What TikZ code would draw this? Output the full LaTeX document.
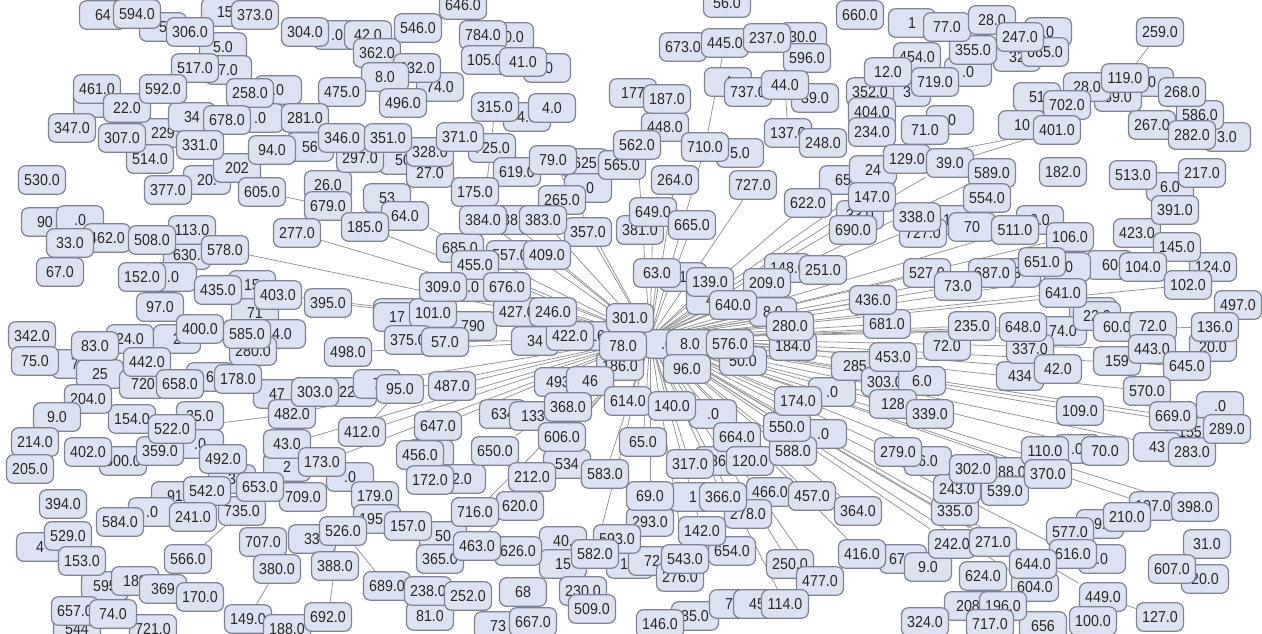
\documentclass[tikz,border=0pt]{standalone}
\usepackage{fontspec}
\setmainfont{Liberation Sans}[FakeStretch=0.9]
\usetikzlibrary{backgrounds}
\definecolor{boxfill}{RGB}{221,226,242}
\definecolor{boxline}{RGB}{125,131,148}
\definecolor{edgegray}{RGB}{150,150,150}
\definecolor{labeltxt}{RGB}{40,40,40}
\tikzset{
  box/.style={draw=boxline, fill=boxfill, rounded corners=4pt, line width=0.7pt,
    minimum width=0.94cm, minimum height=0.57cm, inner sep=1pt, text=labeltxt,
    font=\fontsize{9}{10}\selectfont},
  link/.style={draw=edgegray, line width=0.45pt}
}
\begin{document}
\begin{tikzpicture}[x=0.02cm, y=-0.02cm]
\useasboundingbox (0,0) rectangle (1262,634);
% boxes that are mostly hidden, only part of the label shows
\foreach \x/\y/\t [count=\i] in {103/15/64, 163/27/5, 225/12/15, 223/47/5.0, 337/35/.0, 368/35/42.0,
  228/70/7.0, 97/103/, 278/90/.0, 163/133/229, 192/117/34, 260/118/.0, 310/147/56, 403/160/50,
  207/180/20., 237/168/202, 328/185/26.0, 387/198/53, 45/222/90, 80/220/.0, 187/255/630.,
  173/277/.0, 252/285/15, 255/313/71, 397/313/17, 440/87/74.0, 510/37/50.0, 547/68/.0,
  527/117/4.0, 552/108/4.0, 430/173/27.0, 585/163/625, 588/188/.0, 510/220/38, 633/93/177,
  740/153/5.0, 728/82/4, 815/98/39.0, 803/37/30.0, 683/277/1, 710/300/4, 773/312/8.0,
  843/180/65, 473/287/.0, 912/23/1, 1048/32/.0, 1017/57/32, 1045/52/665.0, 968/72/.0,
  1150/82/.0, 1118/97/69.0, 1087/87/28.0, 1037/97/51, 1227/137/3.0, 1022/125/10, 950/120/.0,
  907/92/3, 873/170/24, 860/215/33.0, 853/230/690.0, 953/220/1.0, 923/233/727.0, 972/227/70,
  1040/220/9.0, 1170/187/6.0, 1110/265/60, 1067/267/.0, 1017/273/3, 1093/312/22.0,
  130/339/24.0, 177/339/2, 282/334/4.0, 253/351/280.0, 75/364/7, 100/374/25, 143/384/720,
  210/377/6, 397/317/17, 200/416/35.0, 200/444/.0, 277/394/47, 353/392/22.0, 377/384/7,
  287/467/2, 350/477/.0, 232/479/3, 175/496/91, 152/512/.0, 312/539/33, 40/547/4,
  105/586/595, 135/581/189, 163/589/369, 77/629/544, 473/326/790, 535/341/34, 597/336/16,
  667/344/.0, 690/344/8.0, 743/361/50.0, 620/366/186.0, 558/382/493, 590/381/46, 503/414/634,
  533/416/133, 713/414/.0, 832/392/.0, 823/434/.0, 567/464/534, 718/461/36, 430/454/6.0,
  462/479/2.0, 693/497/1, 443/536/50, 563/541/40., 630/564/13., 652/561/72, 563/564/15,
  523/592/68, 498/626/73, 695/616/85.0, 733/604/73, 757/604/45, 430/616/81.0,
  1063/331/74.0, 1097/316/22.0, 1117/327/60.0, 947/346/72.0, 855/366/285, 1020/376/434,
  1117/361/159, 1213/347/20.0, 885/382/303.0, 922/381/6.0, 893/404/128, 1220/406/.0,
  1190/432/155, 1157/447/43, 928/461/6.0, 1077/449/.0, 1100/524/9., 903/559/67.0, 928/567/9.0,
  1102/559/.0, 1205/579/20.0, 968/606/208, 1043/626/656}
  \node[box] (f\i) at (\x,\y) {\t};
% boxes lying under others
\foreach \x/\y/\t in {107/238/462, 192/230/113, 588/232/357, 640/230/381, 622/165/565,
  562/200/265, 665/127/448, 377/53/362, 510/255/557, 517/312/427, 433/313/101, 793/346/184,
  790/326/280, 630/318/301, 570/336/422, 788/268/148, 788/133/137, 683/47/673, 748/92/737,
  1063/172/182, 1152/125/267, 1137/233/423, 1153/506/107, 952/544/242, 1127/517/210,
  927/273/527, 1008/472/288, 770/492/466, 248/619/149, 387/586/689, 440/559/365, 428/591/238,
  132/419/154, 123/461/500, 160/451/359, 925/622/324, 983/576/624, 1035/587/604, 1070/532/577,
  1073/554/616, 955/511/335, 957/489/243, 1005/491/539, 1192/452/283, 1045/451/110,
  1030/349/337, 737/437/664, 748/514/278, 650/522/293, 732/551/654, 680/577/276, 617/539/593,
  518/551/626, 520/506/620, 583/591/230, 223/459/492, 375/496/179, 377/519/195, 287/629/188,
  153/629/721, 360/158/297, 430/152/328, 492/148/725, 517/172/619, 460/248/685, 483/35/784,
  463/5/646, 807/58/596, 973/50/355, 917/57/454, 1200/115/586, 992/273/687, 1213/267/124,
  1238/305/497, 887/324/681, 767/283/209, 727/3/56, 1003/606/196, 870/92/352, 872/112/404}
  \node[box] (n\t) at (\x,\y) {\t.0};
% top left
\foreach \x/\y/\t in {137/14/594, 190/32/306, 255/15/373, 305/32/304, 418/28/546, 195/68/517,
  417/68/332, 385/77/8, 342/92/475, 403/103/496, 97/89/461, 127/108/22, 163/89/592, 250/93/258,
  227/120/678, 305/118/281, 150/159/514, 72/128/347, 122/138/307, 200/145/331, 272/150/94,
  342/138/346, 388/138/351, 42/180/530, 168/190/377, 262/192/605, 328/206/679, 405/216/64,
  365/227/185, 297/233/277, 70/243/33, 152/240/508, 225/250/578, 60/272/67, 142/277/152,
  218/290/435, 278/295/403, 328/303/395, 160/307/97}
  \node[box] (n\t) at (\x,\y) {\t.0};
% top middle
\foreach \x/\y/\t in {485/60/105, 523/62/41, 495/107/315, 460/137/371, 553/160/79, 475/192/175,
  483/220/384, 543/220/383, 547/255/409, 475/265/455, 443/287/309, 507/287/676, 553/312/246,
  637/145/562, 667/99/187, 705/147/710, 675/180/264, 653/212/649, 692/225/665, 753/185/727,
  725/43/445, 767/38/237, 785/85/44, 823/143/248, 657/273/63, 710/282/139, 823/270/251,
  733/305/640, 808/203/622, 860/15/660}
  \node[box] (n\t) at (\x,\y) {\t.0};
% top right
\foreach \x/\y/\t in {947/27/77, 992/20/28, 1020/37/247, 888/72/12, 935/82/719, 1160/32/259,
  1125/78/119, 1067/105/702, 1182/92/268, 1192/135/282, 1057/130/401, 872/132/234, 925/130/71,
  907/159/129, 950/163/39, 872/197/147, 917/217/338, 992/173/589, 987/198/554, 1015/230/511,
  1070/237/106, 1133/175/513, 1202/173/217, 1175/210/391, 1177/247/145, 1143/267/104,
  1188/285/102, 1042/262/651, 958/286/73, 1063/293/641, 873/300/436}
  \node[box] (n\t) at (\x,\y) {\t.0};
% bottom left
\foreach \x/\y/\t in {32/336/342, 35/361/75, 95/346/83, 200/329/400, 247/334/585, 147/362/442,
  348/352/498, 408/340/375, 180/384/658, 238/379/178, 88/399/204, 57/417/9, 172/429/522,
  35/442/214, 88/452/402, 30/469/205, 292/414/482, 315/392/303, 400/389/95, 362/432/412,
  287/444/43, 322/462/173, 420/455/456, 430/480/172, 242/511/735, 303/497/709, 207/491/542,
  260/487/653, 63/504/394, 120/522/584, 193/517/241, 408/526/157, 68/536/529, 263/542/707,
  343/531/526, 82/561/153, 188/559/566, 277/569/380, 335/566/388, 200/597/170, 75/611/657,
  113/614/74, 328/617/692}
  \node[box] (n\t) at (\x,\y) {\t.0};
% bottom middle
\foreach \x/\y/\t in {445/342/57, 452/386/487, 438/426/647, 568/407/368, 628/401/614,
  672/406/140, 562/437/606, 643/442/65, 495/451/650, 532/477/212, 605/474/583, 623/346/78,
  730/344/576, 687/369/96, 475/512/716, 477/546/463, 650/496/69, 723/497/366, 702/531/142,
  595/554/582, 685/559/543, 690/464/317, 750/461/120, 793/451/588, 787/427/550, 798/401/174,
  812/496/457, 790/564/250, 820/581/477, 468/596/252, 592/609/509, 533/622/667, 660/624/146,
  785/604/114}
  \node[box] (n\t) at (\x,\y) {\t.0};
% bottom right
\foreach \x/\y/\t in {972/326/235, 1023/327/648, 1153/326/72, 1215/327/136, 893/357/453,
  1058/369/42, 1152/349/443, 1187/366/645, 1147/391/570, 930/414/339, 1080/411/109,
  1173/416/669, 1227/429/289, 898/452/279, 973/469/302, 1048/474/370, 1105/451/70,
  858/511/364, 1195/507/398, 862/554/416, 993/542/271, 1033/564/644, 1207/544/31,
  1172/569/607, 1103/597/449, 1160/617/127, 990/624/717, 1093/621/100}
  \node[box] (n\t) at (\x,\y) {\t.0};
\coordinate (hub) at (650,338);
\begin{pgfonlayer}{background}
\fill[white] (0,0) rectangle (1262,634);
\foreach \t in {578, 277, 395, 64, 185, 403, 101, 57, 309, 455, 384, 175, 383, 409, 246, 427,
  487, 498, 303, 482, 412, 43, 173, 647, 650, 212, 606, 368, 614, 140, 65, 583, 716, 463, 582,
  543, 142, 69, 317, 366, 120, 588, 550, 174, 457, 250, 114, 477, 364, 416, 242, 271, 644, 302,
  370, 279, 339, 70, 109, 669, 645, 443, 136, 72, 641, 73, 527, 651, 511, 554, 589, 147, 129,
  39, 622, 727, 710, 264, 665, 649, 357, 79, 562, 63, 139, 251, 148, 640, 576, 96, 78, 184,
  280, 453, 681, 436, 235, 648, 42, 570, 398, 107, 449, 604, 616, 289, 283, 106, 102, 104}
  \draw[link] (hub) -- (n\t);
\draw[link] (n259) -- (n119);
\draw[link] (n605) -- (n679);
\draw[link] (n401) -- (n129);
\draw[link] (n401) -- (n39);
\draw[link] (n710) -- (n445);
\draw[link] (n137) -- (n44);
\draw[link] (n315) -- (n384);
\draw[link] (n380) -- (n149);
\draw[link] (n388) -- (n692);
\draw[link] (n526) -- (n689);
\draw[link] (n566) -- (n735);
\draw[link] (n482) -- (n522);
\draw[link] (n412) -- (n95);
\draw[link] (n449) -- (n127);
\draw[link] (n258) -- (n281);
\end{pgfonlayer}
\end{tikzpicture}
\end{document}
